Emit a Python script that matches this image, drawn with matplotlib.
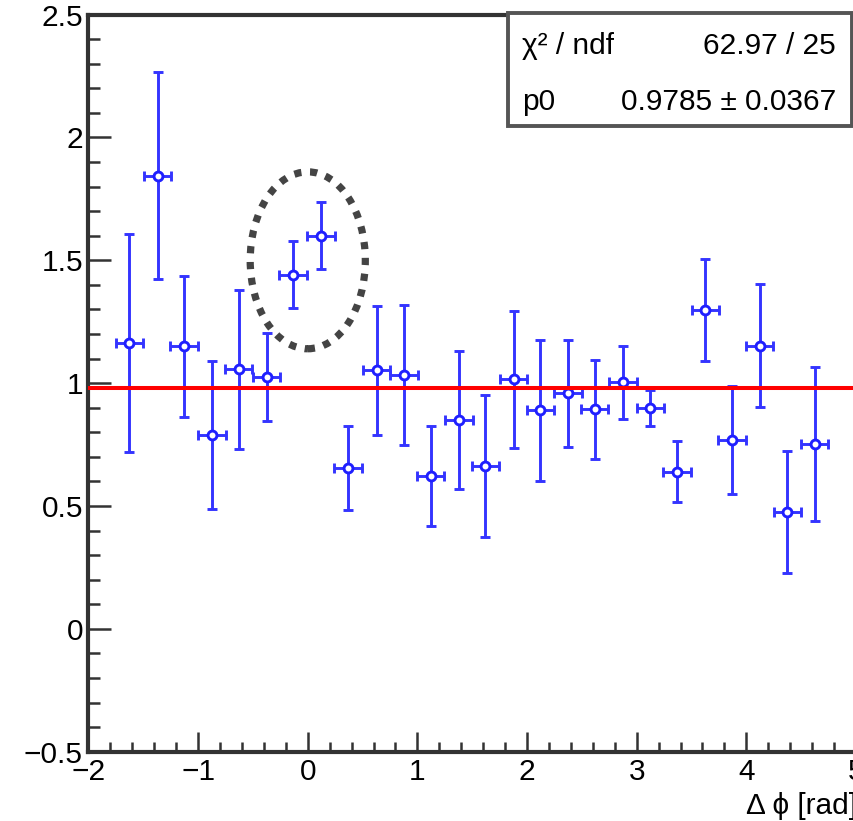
import numpy as np
import matplotlib
matplotlib.use('Agg')
from matplotlib import pyplot as plt
from matplotlib.patches import Ellipse, Rectangle

plt.rcParams['font.family'] = ['Liberation Sans', 'DejaVu Sans']

# Data
dphi = [-1.628, -1.369, -1.127, -0.874, -0.631, -0.376, -0.133, 0.119, 0.368,
        0.627, 0.876, 1.122, 1.378, 1.621, 1.879, 2.122, 2.374, 2.617, 2.875,
        3.125, 3.367, 3.626, 3.869, 4.121, 4.374, 4.623]
ratio = [1.164, 1.845, 1.150, 0.788, 1.056, 1.024, 1.441, 1.600, 0.654,
         1.052, 1.033, 0.622, 0.850, 0.663, 1.015, 0.890, 0.958, 0.893, 1.004,
         0.900, 0.639, 1.299, 0.769, 1.153, 0.474, 0.751]
ratio_err = [0.444, 0.423, 0.288, 0.301, 0.322, 0.180, 0.137, 0.136, 0.172,
             0.262, 0.284, 0.205, 0.281, 0.288, 0.279, 0.287, 0.219, 0.203, 0.149,
             0.074, 0.124, 0.208, 0.220, 0.252, 0.248, 0.313]
bin_half = 0.125
p0 = 0.9785
p0_err = 0.0367
chi2, ndf = 62.97, 25

blue = '#3434ff'
dark = '#333333'
fs = 21.5

fig = plt.figure(figsize=(8.54, 8.21), dpi=100)
ax = fig.add_axes([0.1036, 0.0844, 0.8987, 0.8978])

ax.errorbar(dphi, ratio, yerr=ratio_err, xerr=bin_half, fmt='o', ms=6.4,
            mfc='white', mec='#1f1fff', mew=2.1, ecolor=blue, elinewidth=2.1,
            capsize=3.8, capthick=2.1, zorder=3)
ax.axhline(p0, color='#ff0000', lw=2.9, zorder=4)

# highlighted region
ax.add_patch(Ellipse((0.0, 1.5), 1.05, 0.72, fill=False, ec='#444444',
                     lw=5.2, ls=(0, (1.0, 1.2)), capstyle='butt', zorder=2))

ax.set_xlim(-2, 5)
ax.set_ylim(-0.5, 2.5)
ax.set_xticks(np.arange(-2, 6, 1))
ax.set_xticks(np.arange(-2, 5.01, 0.2), minor=True)
ax.set_yticks(np.arange(-0.5, 2.51, 0.5))
ax.set_yticks(np.arange(-0.5, 2.51, 0.1), minor=True)
ax.set_xticklabels(['\u22122', '\u22121', '0', '1', '2', '3', '4', '5'])
ax.set_yticklabels(['\u22120.5', '0', '0.5', '1', '1.5', '2', '2.5'])

ax.tick_params(axis='both', which='both', direction='in', colors=dark,
               labelcolor='black', labelsize=fs, width=1.8)
ax.tick_params(axis='x', which='major', length=14.5, pad=4.5)
ax.tick_params(axis='x', which='minor', length=7.2)
ax.tick_params(axis='y', which='major', length=16.5, pad=4)
ax.tick_params(axis='y', which='minor', length=8.6)
for side in ['left', 'bottom', 'top', 'right']:
    ax.spines[side].set_color(dark)
    ax.spines[side].set_linewidth(3.0)

# stats box
fig.add_artist(Rectangle((0.5948, 0.8465), 0.4028, 0.1376, transform=fig.transFigure,
                         fc='white', ec='#555555', lw=2.8, zorder=5))
fig.text(0.611, 0.934, '\u03c7\u00b2 / ndf', fontsize=fs, va='baseline', ha='left', zorder=6)
fig.text(0.979, 0.934, '%.2f / %d' % (chi2, ndf), fontsize=fs, va='baseline', ha='right', zorder=6)
fig.text(0.611, 0.866, 'p0', fontsize=fs, va='baseline', ha='left', zorder=6)
fig.text(0.979, 0.866, '%.4f \u00b1 %.4f' % (p0, p0_err), fontsize=fs, va='baseline',
         ha='right', zorder=6)

fig.text(1.003, 0.0085, '\u0394 \u03d5 [rad]', fontsize=fs, va='baseline', ha='right')

fig.savefig('out.png', dpi=100)
